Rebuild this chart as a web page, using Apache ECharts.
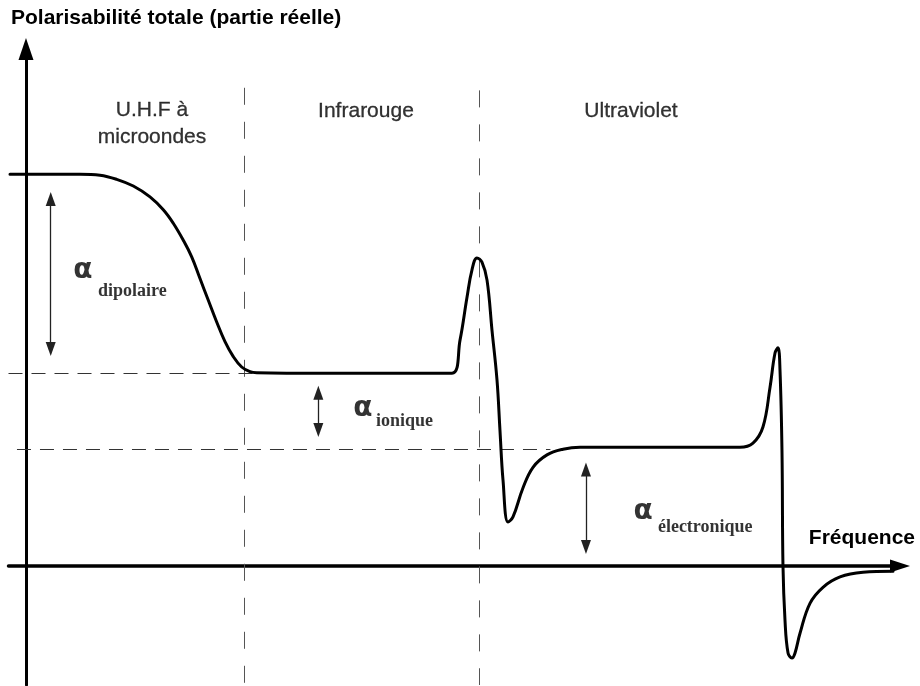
<!DOCTYPE html>
<html>
<head>
<meta charset="utf-8">
<script src="https://cdn.jsdelivr.net/npm/echarts@6.0.0/dist/echarts.min.js"></script>
<style>
html,body{margin:0;padding:0;background:#fff;}
#chart{width:920px;height:686px;}
</style>
</head>
<body>
<div id="chart"></div>
<script>
// Frequency (arbitrary units) and total polarisability (real part, arbitrary units)
const frequency = [-1.83, 6.18, 8.47, 10.38, 12.28, 14.19, 15.71, 16.85, 17.97, 18.96, 19.91, 20.86, 21.82, 22.77, 23.72, 24.68, 25.63, 26.4, 34, 44,
  48.74, 49.66, 50.46, 51.03, 51.6, 52.17, 52.75, 53.32, 53.89, 54.23, 54.58, 55.15, 55.72, 56.86, 58.01, 59.61, 61.44, 63.39, 72,
  81.69, 83.18, 84.32, 85.13, 85.7, 86.04, 86.27, 86.5, 86.61, 86.84, 87.19, 87.64, 87.99, 88.56, 89.7, 91.19, 93.14, 95.77, 99.2];
const polarisability = [7.58, 7.58, 7.56, 7.48, 7.35, 7.14, 6.89, 6.63, 6.31, 5.98, 5.56, 5.14, 4.72, 4.34, 4.05, 3.85, 3.76, 3.74, 3.73, 3.73,
  3.73, 4.37, 5.20, 5.73, 5.96, 5.88, 5.53, 4.56, 3.60, 2.63, 1.66, 0.85, 0.95, 1.51, 1.91, 2.15, 2.26, 2.30, 2.30,
  2.30, 2.38, 2.69, 3.46, 4.12, 4.22, 3.79, 2.19, 0.02, -1.04, -1.68, -1.78, -1.68, -1.30, -0.72, -0.41, -0.21, -0.12, -0.10];

// Domain boundaries (frequency) and labels
const domainBoundaries = [24.94, 51.83];
const domainNames = ['U.H.F à\nmicroondes', 'Infrarouge', 'Ultraviolet'];

// Polarisability plateaus
const levelIonicPlusElectronic = 3.73;
const levelElectronic = 2.26;

// Contribution names
const contributions = ['dipolaire', 'ionique', 'électronique'];

const chart = echarts.init(document.getElementById('chart'), null, {renderer: 'canvas'});

const xMin = -2, xMax = 100, yMin = -2.3, yMax = 10;

const dashV = {color: '#555', width: 1, type: [17, 17]};
const dashH = {color: '#333', width: 1, type: [14, 9]};

const baseText = {color: '#000', textShadowBlur: 0};
const subStyle = Object.assign({fontFamily: 'Liberation Serif', fontWeight: 'bold', fontSize: 18, textBorderWidth: 0}, baseText);
const alphaStyle = Object.assign({fontFamily: 'DejaVu Sans', fontWeight: 'bold', fontSize: 28, textBorderWidth: 0}, baseText);
const regionStyle = Object.assign({fontFamily: 'Liberation Sans', fontSize: 21, lineHeight: 27,
  textBorderColor: '#000', textBorderWidth: 0.3}, baseText);

function txt(x, y, text, style, align) {
  return {
    name: text,
    value: [x, y],
    label: Object.assign({show: true, position: 'inside', align: align || 'left', verticalAlign: 'middle', formatter: '{b}'}, style)
  };
}

const option = {
  animation: false,
  backgroundColor: '#fff',
  title: {
    text: 'Polarisabilité totale (partie réelle)',
    left: 11, top: 8, padding: 0,
    textStyle: {fontFamily: 'Liberation Sans', fontWeight: 'bold', fontSize: 21, color: '#000'}
  },
  grid: {left: 8.5, right: 20, top: 49, bottom: 1, containLabel: false, outerBoundsMode: 'none'},
  xAxis: {
    type: 'value', min: xMin, max: xMax,
    axisLine: {onZero: true, lineStyle: {color: '#000', width: 3.5}, symbol: ['none', 'triangle'], symbolSize: [13, 20]},
    axisTick: {show: false}, axisLabel: {show: false}, splitLine: {show: false},
    name: 'Fréquence', nameLocation: 'end', nameGap: 15,
    nameTextStyle: {fontFamily: 'Liberation Sans', fontWeight: 'bold', fontSize: 21, color: '#000',
      align: 'right', verticalAlign: 'bottom', padding: [0, 0, 17, 0]}
  },
  yAxis: {
    type: 'value', min: yMin, max: yMax,
    axisLine: {onZero: true, lineStyle: {color: '#000', width: 3}, symbol: ['none', 'triangle'], symbolSize: [15, 22]},
    axisTick: {show: false}, axisLabel: {show: false}, splitLine: {show: false}
  },
  series: [
    {
      name: 'Polarisabilité',
      type: 'line',
      data: frequency.map((f, i) => [f, polarisability[i]]),
      showSymbol: false, symbol: 'none',
      smooth: 0.4,
      lineStyle: {color: '#000', width: 3, join: 'round', cap: 'round'},
      z: 5,
      markLine: {
        silent: true, symbol: 'none', label: {show: false},
        data: [
          [{coord: [domainBoundaries[0], 9.25], lineStyle: dashV}, {coord: [domainBoundaries[0], yMin]}],
          [{coord: [domainBoundaries[1], 9.2], lineStyle: dashV}, {coord: [domainBoundaries[1], yMin]}],
          [{coord: [xMin, levelIonicPlusElectronic], lineStyle: dashH}, {coord: [27, levelIonicPlusElectronic]}],
          [{coord: [-1.03, levelElectronic], lineStyle: dashH}, {coord: [60, levelElectronic]}]
        ]
      }
    },
    {
      name: 'contributions',
      type: 'line',
      data: [],
      markLine: {
        silent: true,
        symbol: ['triangle', 'triangle'], symbolSize: [10, 14],
        label: {show: false},
        lineStyle: {color: '#222', width: 1.3, type: 'solid'},
        data: [
          [{coord: [2.83, 7.10]}, {coord: [2.83, 4.20]}],
          [{coord: [33.45, 3.35]}, {coord: [33.45, 2.63]}],
          [{coord: [64.07, 1.87]}, {coord: [64.07, 0.37]}]
        ]
      }
    },
    {
      name: 'annotations',
      type: 'scatter',
      symbolSize: 0,
      silent: true,
      z: 10,
      data: [
        txt(14.42, 8.56, domainNames[0], regionStyle, 'center'),
        txt(38.9, 8.80, domainNames[1], regionStyle, 'center'),
        txt(69.22, 8.80, domainNames[2], regionStyle, 'center'),
        txt(5.4, 5.72, 'α', alphaStyle),
        txt(8.24, 5.32, contributions[0], subStyle),
        txt(37.45, 3.05, 'α', alphaStyle),
        txt(40.05, 2.79, contributions[1], subStyle),
        txt(69.5, 1.05, 'α', alphaStyle),
        txt(72.3, 0.74, contributions[2], subStyle)
      ]
    }
  ]
};
chart.setOption(option);
</script>
</body>
</html>
